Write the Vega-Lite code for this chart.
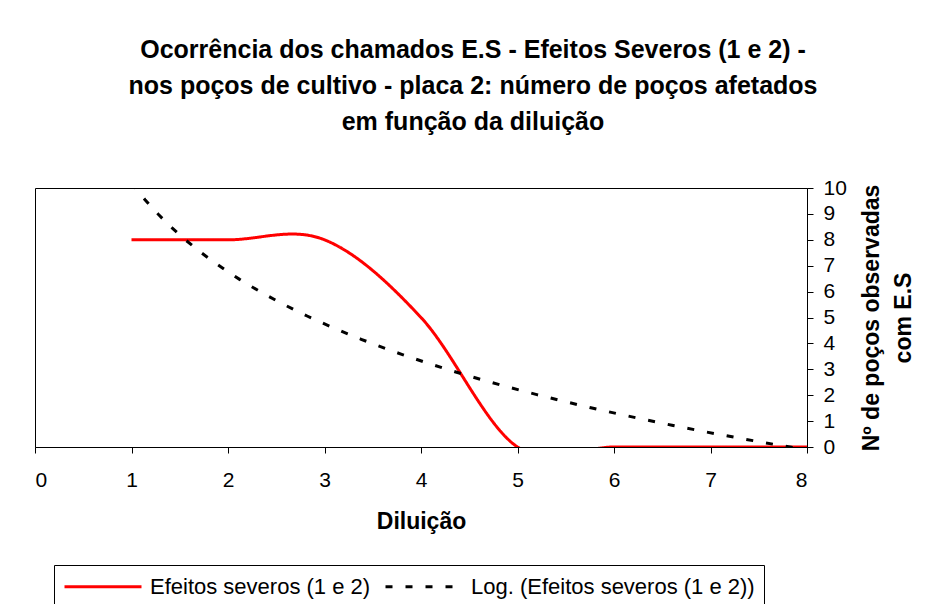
{
  "$schema": "https://vega.github.io/schema/vega-lite/v6.json",
  "width": 772,
  "height": 259,
  "autosize": "none",
  "padding": {"left": 35, "top": 188, "right": 128, "bottom": 157},
  "background": "white",
  "title": {
    "text": ["Ocorrência dos chamados E.S - Efeitos Severos (1 e 2) -", "nos poços de cultivo - placa 2:  número de poços afetados", "em função da diluição"],
    "font": "Liberation Sans",
    "fontSize": 25,
    "fontWeight": "bold",
    "color": "black",
    "lineHeight": 36,
    "anchor": "middle",
    "dx": 52,
    "offset": 42
  },
  "data": {
    "values": [
      {"diluicao": 1, "pocos": 8},
      {"diluicao": 2, "pocos": 8},
      {"diluicao": 3, "pocos": 8},
      {"diluicao": 4, "pocos": 5},
      {"diluicao": 5, "pocos": 0},
      {"diluicao": 6, "pocos": 0},
      {"diluicao": 7, "pocos": 0},
      {"diluicao": 8, "pocos": 0}
    ]
  },
  "encoding": {
    "x": {
      "field": "diluicao",
      "type": "quantitative",
      "scale": {"domain": [0, 8], "nice": false, "zero": false},
      "axis": {
        "title": "Diluição",
        "values": [0, 1, 2, 3, 4, 5, 6, 7, 8],
        "format": "d",
        "grid": false,
        "labelFont": "Liberation Sans",
        "labelFontSize": 21,
        "labelColor": "black",
        "labelPadding": 16,
        "tickSize": 6,
        "tickColor": "black",
        "domainColor": "black",
        "titleFont": "Liberation Sans",
        "titleFontSize": 23,
        "titleFontWeight": "bold",
        "titleColor": "black",
        "titlePadding": 20
      }
    },
    "y": {
      "field": "pocos",
      "type": "quantitative",
      "scale": {"domain": [0, 10], "nice": false},
      "axis": {
        "orient": "right",
        "title": ["Nº de poços observadas", "com E.S"],
        "values": [0, 1, 2, 3, 4, 5, 6, 7, 8, 9, 10],
        "format": "d",
        "grid": false,
        "labelFont": "Liberation Sans",
        "labelFontSize": 21,
        "labelColor": "black",
        "labelPadding": 10,
        "labelAlign": "left",
        "tickSize": 6,
        "tickColor": "black",
        "domainColor": "black",
        "titleFont": "Liberation Sans",
        "titleFontSize": 23,
        "titleFontWeight": "bold",
        "titleColor": "black",
        "titleAngle": 270,
        "titleBaseline": "top",
        "titleAlign": "center",
        "titleLineHeight": 32,
        "titlePadding": -18
      }
    }
  },
  "layer": [
    {
      "mark": {"type": "line", "interpolate": "cardinal", "strokeWidth": 3, "clip": true},
      "encoding": {
        "color": {
          "datum": "Efeitos severos (1 e 2)",
          "type": "nominal",
          "scale": {"domain": ["Efeitos severos (1 e 2)", "Log. (Efeitos severos (1 e 2))"], "range": ["#ff0000", "#000000"]},
          "legend": {"title": null, "symbolType": "M-1,0H6", "symbolSize": 484}
        },
        "strokeDash": {
          "datum": "Efeitos severos (1 e 2)",
          "type": "nominal",
          "scale": {"domain": ["Efeitos severos (1 e 2)", "Log. (Efeitos severos (1 e 2))"], "range": [[1, 0], [7, 13]]},
          "legend": {"title": null, "symbolType": "M-1,0H6", "symbolSize": 484}
        }
      }
    },
    {
      "transform": [
        {"regression": "pocos", "on": "diluicao", "method": "log", "extent": [1, 8]}
      ],
      "mark": {"type": "line", "strokeWidth": 3, "clip": true},
      "encoding": {
        "color": {"datum": "Log. (Efeitos severos (1 e 2))", "type": "nominal"},
        "strokeDash": {"datum": "Log. (Efeitos severos (1 e 2))", "type": "nominal"}
      }
    }
  ],
  "config": {
    "view": {"stroke": "black", "strokeWidth": 1},
    "legend": {
      "orient": "none",
      "legendX": 19,
      "legendY": 377,
      "direction": "horizontal",
      "strokeColor": "black",
      "fillColor": "white",
      "padding": 9,
      "symbolSize": 484,
      "symbolStrokeWidth": 3,
      "labelFont": "Liberation Sans",
      "labelFontSize": 22,
      "labelColor": "black",
      "labelOffset": 62,
      "labelLimit": 500,
      "columnPadding": 8
    }
  }
}
